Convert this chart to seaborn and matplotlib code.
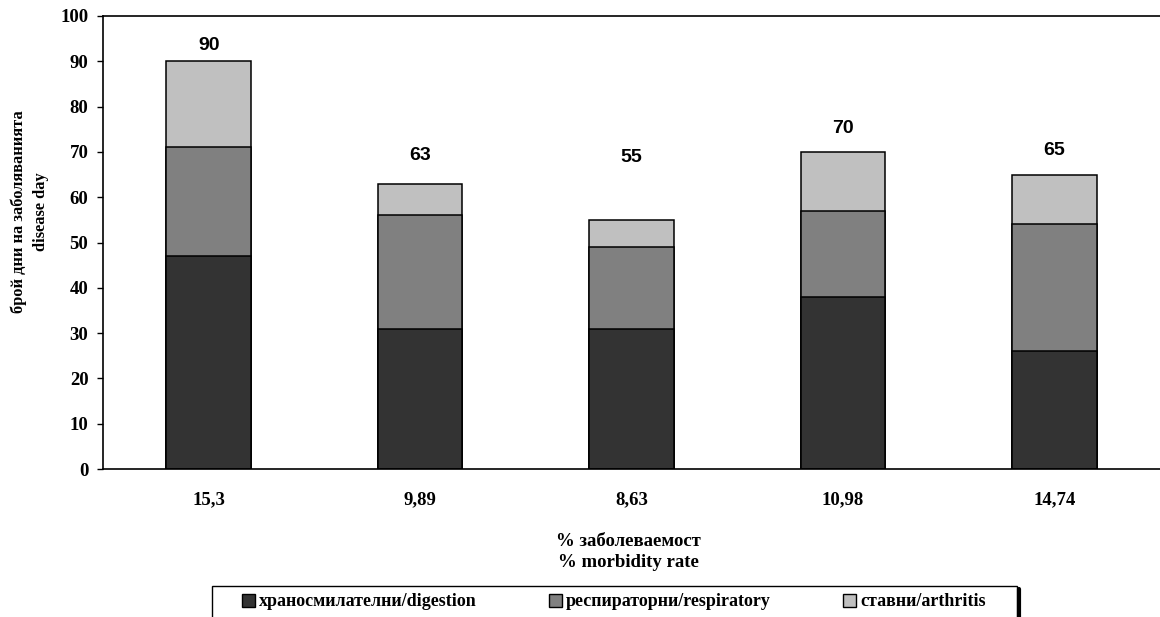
import matplotlib
matplotlib.use("Agg")
import matplotlib.pyplot as plt
import seaborn as sns
import pandas as pd
from matplotlib.patches import Patch, Rectangle
from matplotlib.lines import Line2D

# данни / data
categories = ["15,3", "9,89", "8,63", "10,98", "14,74"]
digestion = [47, 31, 31, 38, 26]
respiratory = [24, 25, 18, 19, 28]
arthritis = [19, 7, 6, 13, 11]
totals = [90, 63, 55, 70, 65]
series_names = ["храносмилателни/digestion", "респираторни/respiratory", "ставни/arthritis"]
colors = ["#333333", "#808080", "#c0c0c0"]

# extra space above each bar for the total label (data units)
label_gap = [3.4, 6.2, 13.7, 5.2, 5.4]

SERIF = "Liberation Serif"
SANS = "Liberation Sans"


def build_frame():
    df = pd.DataFrame({
        "category": categories,
        "digestion": digestion,
        "respiratory": respiratory,
        "arthritis": arthritis,
    })
    df["lvl1"] = df["digestion"]
    df["lvl2"] = df["lvl1"] + df["respiratory"]
    df["lvl3"] = df["lvl2"] + df["arthritis"]
    return df


def plot_chart(output_path="out.png"):
    sns.set_theme(style="white")
    plt.rcParams["font.family"] = [SERIF, "DejaVu Serif"]
    plt.rcParams["font.weight"] = "bold"
    for key in ["text.color", "axes.labelcolor", "xtick.color", "ytick.color"]:
        plt.rcParams[key] = "black"

    df = build_frame()

    fig = plt.figure(figsize=(11.6, 6.17), dpi=100)
    ax = fig.add_axes([103 / 1160, 1 - 469 / 617, 1057 / 1160, (469 - 16) / 617])

    # stacked bars: draw the tallest cumulative level first
    for col, color in zip(["lvl3", "lvl2", "lvl1"], colors[::-1]):
        sns.barplot(data=df, x="category", y=col, order=categories, color=color,
                    saturation=1, width=0.4, edgecolor="black", linewidth=1.1,
                    errorbar=None, ax=ax)

    for i, (tot, gap) in enumerate(zip(totals, label_gap)):
        ax.text(i, tot + gap, str(tot), ha="center", va="center", color="black",
                fontsize=14, fontweight="bold", family=[SANS, "DejaVu Sans"])

    ax.set_xlim(-0.5, 4.5)
    ax.set_ylim(0, 100)
    ax.set_yticks(range(0, 101, 10))
    ax.set_xlabel("")
    ax.set_ylabel("")

    for side in ["left", "top", "bottom"]:
        ax.spines[side].set_visible(True)
        ax.spines[side].set_color("black")
        ax.spines[side].set_linewidth(1.2)
    ax.spines["right"].set_visible(False)

    ax.tick_params(axis="y", direction="out", length=4.5, width=1, pad=6,
                   labelsize=13.5, left=True, colors="black")
    ax.tick_params(axis="x", length=0, pad=16, labelsize=13.5, colors="black")
    for lab in ax.get_xticklabels() + ax.get_yticklabels():
        lab.set_fontweight("bold")

    # axis titles
    fig.text(628 / 1160, 1 - 552 / 617, "% заболеваемост\n% morbidity rate",
             ha="center", va="center", fontsize=13.5, fontweight="bold",
             linespacing=1.25, color="black")
    fig.text(30 / 1160, 1 - 212 / 617, "брой дни на заболяванията\ndisease day",
             ha="center", va="center", rotation=90, fontsize=11.8,
             fontweight="bold", linespacing=1.5, color="black")

    # legend box (runs off the bottom edge like the original)
    x0, x1, ytop = 212 / 1160, 1017 / 1160, 1 - 586 / 617
    fig.patches.append(Rectangle((x0, -0.05), x1 - x0, ytop + 0.05,
                                 transform=fig.transFigure, facecolor="white",
                                 edgecolor="black", linewidth=1.0))
    fig.lines.append(Line2D([1018.5 / 1160, 1018.5 / 1160], [-0.02, 1 - 589 / 617],
                            transform=fig.transFigure, color="black", linewidth=3))

    handles = [Patch(facecolor=c, edgecolor="black", linewidth=1) for c in colors]
    leg = fig.legend(handles, series_names, loc="center left",
                     bbox_to_anchor=(242 / 1160, 1 - 602 / 617), ncol=3,
                     frameon=False, fontsize=13, handlelength=0.7,
                     handleheight=0.7, handletextpad=0.25, columnspacing=4.0,
                     borderpad=0, borderaxespad=0)
    for t in leg.get_texts():
        t.set_fontweight("bold")
        t.set_color("black")

    fig.savefig(output_path, dpi=100)
    plt.close(fig)


if __name__ == "__main__":
    plot_chart("out.png")
